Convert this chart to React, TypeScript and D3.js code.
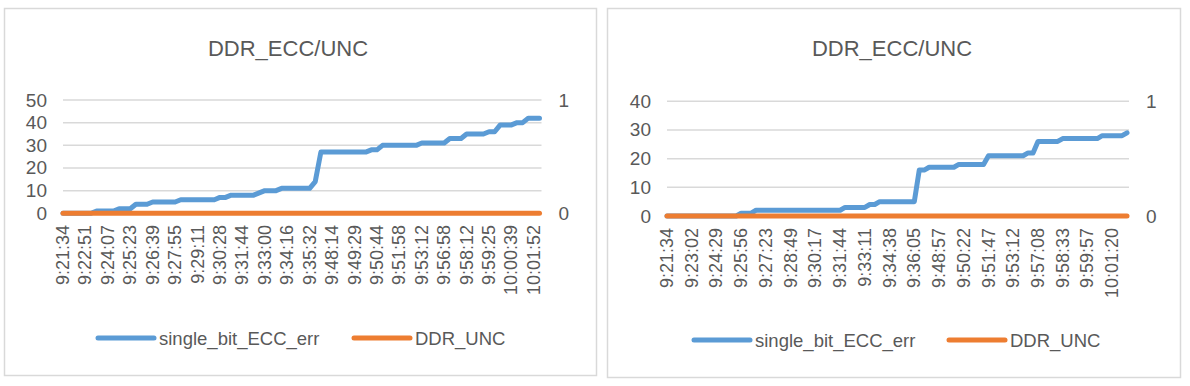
import { line, scaleLinear } from "d3";

// left chart
const ticksA = [
  "9:21:34", "9:22:51", "9:24:07", "9:25:23", "9:26:39", "9:27:55", "9:29:11", "9:30:28",
  "9:31:44", "9:33:00", "9:34:16", "9:35:32", "9:48:14", "9:49:29", "9:50:44", "9:51:58",
  "9:53:12", "9:56:58", "9:58:12", "9:59:25", "10:00:39", "10:01:52",
];
const eccA = [
  0, 0, 0, 0, 0, 0, 1, 1, 1, 1, 2, 2, 2, 4, 4, 4, 5, 5, 5, 5,
  5, 6, 6, 6, 6, 6, 6, 6, 7, 7, 8, 8, 8, 8, 8, 9, 10, 10, 10, 11,
  11, 11, 11, 11, 11, 14, 27, 27, 27, 27, 27, 27, 27, 27, 27, 28, 28, 30, 30, 30,
  30, 30, 30, 30, 31, 31, 31, 31, 31, 33, 33, 33, 35, 35, 35, 35, 36, 36, 39, 39,
  39, 40, 40, 42, 42, 42,
];
const uncA = [
  0, 0, 0, 0, 0, 0, 0, 0, 0, 0, 0, 0, 0, 0, 0, 0, 0, 0, 0, 0,
  0, 0, 0, 0, 0, 0, 0, 0, 0, 0, 0, 0, 0, 0, 0, 0, 0, 0, 0, 0,
  0, 0, 0, 0, 0, 0, 0, 0, 0, 0, 0, 0, 0, 0, 0, 0, 0, 0, 0, 0,
  0, 0, 0, 0, 0, 0, 0, 0, 0, 0, 0, 0, 0, 0, 0, 0, 0, 0, 0, 0,
  0, 0, 0, 0, 0, 0,
];
const yTicksA = [0, 10, 20, 30, 40, 50];

// right chart
const ticksB = [
  "9:21:34", "9:23:02", "9:24:29", "9:25:56", "9:27:23", "9:28:49", "9:30:17", "9:31:44",
  "9:33:11", "9:34:38", "9:36:05", "9:48:57", "9:50:22", "9:51:47", "9:53:12", "9:57:08",
  "9:58:33", "9:59:57", "10:01:20",
];
const eccB = [
  0, 0, 0, 0, 0, 0, 0, 0, 0, 0, 0, 0, 0, 0, 0, 1, 1, 1, 2, 2,
  2, 2, 2, 2, 2, 2, 2, 2, 2, 2, 2, 2, 2, 2, 2, 2, 3, 3, 3, 3,
  3, 4, 4, 5, 5, 5, 5, 5, 5, 5, 5, 16, 16, 17, 17, 17, 17, 17, 17, 18,
  18, 18, 18, 18, 18, 21, 21, 21, 21, 21, 21, 21, 21, 22, 22, 26, 26, 26, 26, 26,
  27, 27, 27, 27, 27, 27, 27, 27, 28, 28, 28, 28, 28, 29,
];
const uncB = [
  0, 0, 0, 0, 0, 0, 0, 0, 0, 0, 0, 0, 0, 0, 0, 0, 0, 0, 0, 0,
  0, 0, 0, 0, 0, 0, 0, 0, 0, 0, 0, 0, 0, 0, 0, 0, 0, 0, 0, 0,
  0, 0, 0, 0, 0, 0, 0, 0, 0, 0, 0, 0, 0, 0, 0, 0, 0, 0, 0, 0,
  0, 0, 0, 0, 0, 0, 0, 0, 0, 0, 0, 0, 0, 0, 0, 0, 0, 0, 0, 0,
  0, 0, 0, 0, 0, 0, 0, 0, 0, 0, 0, 0, 0, 0,
];
const yTicksB = [0, 10, 20, 30, 40];

const title = "DDR_ECC/UNC";
const seriesNames = ["single_bit_ECC_err", "DDR_UNC"];

const FONT = "'Liberation Sans', Arial, sans-serif";
const TEXT = "#595959";
const GRID = "#D9D9D9";
const BLUE = "#5B9BD5";
const ORANGE = "#ED7D31";

type ChartProps = {
  box: [number, number, number, number];
  plot: { left: number; right: number; top: number; bottom: number };
  yTicks: number[];
  ticks: string[];
  every: number;
  ecc: number[];
  unc: number[];
  titleX: number;
  labelTop: number;
  legendX: [number, number];
  legendY: number;
};

const Chart = ({ box, plot, yTicks, ticks, every, ecc, unc, titleX, labelTop, legendX, legendY }: ChartProps) => {
  const [bx, by, bw, bh] = box;
  const xScale = scaleLinear().domain([0, ecc.length - 1]).range([plot.left, plot.right]);
  const yScale = scaleLinear().domain([0, yTicks[yTicks.length - 1]]).range([plot.bottom, plot.top]);
  const y2Scale = scaleLinear().domain([0, 1]).range([plot.bottom, plot.top]);

  const eccLine = line<number>().x((_, i) => xScale(i)).y((d) => yScale(d));
  const uncLine = line<number>().x((_, i) => xScale(i)).y((d) => y2Scale(d));

  return (
    <g fontFamily={FONT} fill={TEXT}>
      <rect x={bx} y={by} width={bw} height={bh} fill="#fff" stroke={GRID} strokeWidth={1.5} />
      <text x={titleX} y={56} fontSize={22} textAnchor="middle">
        {title}
      </text>

      {yTicks.map((t) => (
        <g key={`grid-${t}`}>
          <line x1={plot.left} x2={plot.right + 2} y1={yScale(t)} y2={yScale(t)} stroke={GRID} strokeWidth={1.5} />
          <text x={plot.left - 16} y={yScale(t)} fontSize={19} textAnchor="end" dominantBaseline="central">
            {t}
          </text>
        </g>
      ))}
      {[0, 1].map((t) => (
        <text key={`y2-${t}`} x={plot.right + 19} y={y2Scale(t)} fontSize={19} dominantBaseline="central">
          {t}
        </text>
      ))}

      {ticks.map((t, i) => (
        <text
          key={`tick-${i}`}
          transform={`translate(${xScale(i * every)},${labelTop}) rotate(-90)`}
          fontSize={18}
          textAnchor="end"
          dominantBaseline="central"
        >
          {t}
        </text>
      ))}

      <path d={eccLine(ecc)!} fill="none" stroke={BLUE} strokeWidth={5} strokeLinejoin="round" strokeLinecap="round" />
      <path d={uncLine(unc)!} fill="none" stroke={ORANGE} strokeWidth={5} strokeLinejoin="round" strokeLinecap="round" />

      {[BLUE, ORANGE].map((c, i) => (
        <g key={`legend-${i}`}>
          <line
            x1={legendX[i]}
            x2={legendX[i] + 56}
            y1={legendY}
            y2={legendY}
            stroke={c}
            strokeWidth={5}
            strokeLinecap="round"
          />
          <text x={legendX[i] + 61} y={legendY} fontSize={18.5} dominantBaseline="central">
            {seriesNames[i]}
          </text>
        </g>
      ))}
    </g>
  );
};

const App = () => {
  return (
    <svg
      width={1190}
      height={386}
      style={{ position: "absolute", left: 0, top: 0, background: "#fff" }}
    >
      <Chart
        box={[4.5, 8.5, 592, 367]}
        plot={{ left: 63, right: 539.5, top: 100, bottom: 213.3 }}
        yTicks={yTicksA}
        ticks={ticksA}
        every={4}
        ecc={eccA}
        unc={uncA}
        titleX={288}
        labelTop={225}
        legendX={[98, 354]}
        legendY={338}
      />
      <Chart
        box={[607.5, 8.5, 573, 369]}
        plot={{ left: 667, right: 1127, top: 101.3, bottom: 216 }}
        yTicks={yTicksB}
        ticks={ticksB}
        every={5}
        ecc={eccB}
        unc={uncB}
        titleX={892}
        labelTop={228}
        legendX={[694, 949]}
        legendY={340}
      />
    </svg>
  );
};

export default App;
